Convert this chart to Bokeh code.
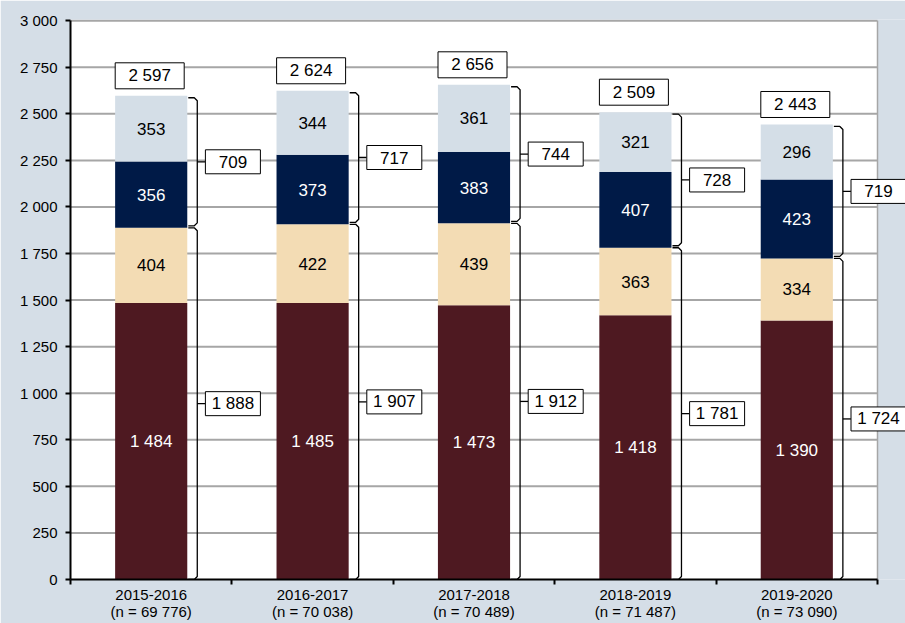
import numpy as np
from bokeh.plotting import figure
from bokeh.models import FixedTicker, Range1d
from bokeh.core.properties import value
from bokeh.embed import file_html
from bokeh.resources import INLINE

# ---------------- data ----------------
years = ["2015-2016", "2016-2017", "2017-2018", "2018-2019", "2019-2020"]
n_sizes = ["69 776", "70 038", "70 489", "71 487", "73 090"]
seg_maroon = [1484, 1485, 1473, 1418, 1390]
seg_tan = [404, 422, 439, 363, 334]
seg_navy = [356, 373, 383, 407, 423]
seg_light = [353, 344, 361, 321, 296]
lower_totals = [1888, 1907, 1912, 1781, 1724]
upper_totals = [709, 717, 744, 728, 719]
grand_totals = [2597, 2624, 2656, 2509, 2443]
y_ticks = [0, 250, 500, 750, 1000, 1250, 1500, 1750, 2000, 2250, 2500, 2750, 3000]
y_tick_labels = ["0", "250", "500", "750", "1 000", "1 250", "1 500", "1 750",
                 "2 000", "2 250", "2 500", "2 750", "3 000"]

# ---------------- style ----------------
BG = "#d5dee7"
WHITE = "#ffffff"
C_MAROON = "#4e1921"
C_TAN = "#f3dcb4"
C_NAVY = "#001a47"
C_LIGHT = "#d4dee7"
GRID = "#a6a6a6"
FONT = "Liberation Sans"
LBL = "17px"
AX = "15px"

def fmt(v):
    return f"{v:,}".replace(",", " ")

W, H = 905, 623
B_LEFT, B_TOP, B_BOTTOM = 70, 19, 43
frame_w = W - B_LEFT
frame_h = H - B_TOP - B_BOTTOM
NCAT = len(years)
cat_px = 807 / NCAT
x_end = frame_w / cat_px
y_end = 3000 + 1.2 * 3000 / (frame_h - 1.2)
ypx = y_end / frame_h          # data units per pixel (y)
xpx = 1 / cat_px               # data units per pixel (x)

p = figure(width=W, height=H, x_range=Range1d(0, x_end), y_range=Range1d(0, y_end),
           output_backend="svg", toolbar_location=None,
           min_border_left=B_LEFT, min_border_right=0, min_border_top=B_TOP,
           min_border_bottom=B_BOTTOM, background_fill_color=BG, border_fill_color=BG)
p.outline_line_color = None
p.xgrid.visible = False
p.ygrid.visible = False

# white plot area
p.quad(left=[0], right=[NCAT], bottom=[0], top=[3000], fill_color=WHITE, line_color=None)

# grid lines
gy = [t for t in y_ticks if t > 0]
p.segment(x0=[0] * len(gy), x1=[NCAT] * len(gy), y0=gy, y1=gy, line_color=GRID, line_width=2)
p.segment(x0=[NCAT], x1=[NCAT], y0=[0], y1=[3000], line_color=GRID, line_width=1.5)

# stacked bars
centers = np.arange(NCAT) + 0.5
bw = 0.447
series = [(seg_maroon, C_MAROON, "white"), (seg_tan, C_TAN, "black"),
          (seg_navy, C_NAVY, "white"), (seg_light, C_LIGHT, "black")]
bottom = np.zeros(NCAT)
for vals, col, tcol in series:
    vals = np.array(vals, dtype=float)
    top = bottom + vals
    p.vbar(x=centers, width=bw, bottom=bottom, top=top, fill_color=col, line_color=None)
    p.text(x=centers, y=bottom + vals / 2, text=[fmt(int(v)) for v in vals],
           text_align="center", text_baseline="middle", text_color=tcol,
           text_font=value(FONT), text_font_size=LBL)
    bottom = top

# braces
lower = np.array(lower_totals, dtype=float)
grand = np.array(grand_totals, dtype=float)
x0 = centers + bw / 2 + 1 * xpx
xb = centers + bw / 2 + 10 * xpx
xt = xb + 8 * xpx
c = 3 * ypx
xs, ys = [], []
for i in range(NCAT):
    for lo, hi in [(0, lower[i]), (lower[i], grand[i])]:
        lo2 = lo + 2 * ypx if lo > 0 else lo
        hi2 = hi - 2 * ypx if lo > 0 else hi
        xs.append([x0[i], xb[i] - 3 * xpx, xb[i], xb[i], xb[i] - 3 * xpx, x0[i]])
        ys.append([hi2, hi2, hi2 - c, lo2 + c, lo2, lo2])
        mid = (lo + hi) / 2
        xs.append([xb[i], xt[i]])
        ys.append([mid, mid])
p.multi_line(xs=xs, ys=ys, line_color="black", line_width=1.3)

# side boxes
side_x = np.concatenate([np.arange(1, NCAT + 1), np.arange(1, NCAT + 1)]).astype(float) + 1 * xpx
side_y = np.concatenate([lower / 2, (lower + grand) / 2])
side_t = [fmt(v) for v in lower_totals] + [fmt(v) for v in upper_totals]
p.rect(x=side_x, y=side_y, width=55, height=24, width_units="screen", height_units="screen",
       fill_color=WHITE, line_color="black", line_width=1)
p.text(x=side_x, y=side_y, text=side_t, text_align="center", text_baseline="middle",
       text_color="black", text_font=value(FONT), text_font_size=LBL)

# top boxes
top_y = grand + 20 * ypx
p.rect(x=centers - 1.5 * xpx, y=top_y, width=69, height=26, width_units="screen",
       height_units="screen", fill_color=WHITE, line_color="black", line_width=1)
p.text(x=centers - 1.5 * xpx, y=top_y, text=[fmt(v) for v in grand_totals],
       text_align="center", text_baseline="middle", text_color="black",
       text_font=value(FONT), text_font_size=LBL)

# axes
xa = p.xaxis[0]
xa.ticker = FixedTicker(ticks=list(centers), minor_ticks=list(range(NCAT + 1)))
xa.major_label_overrides = {float(cx): f"{y}\n(n = {n})" for cx, y, n in zip(centers, years, n_sizes)}
xa.major_tick_out = 0
xa.major_tick_in = 0
xa.minor_tick_out = 5
xa.minor_tick_in = 0
xa.minor_tick_line_color = "black"
xa.minor_tick_line_width = 2
xa.axis_line_color = "black"
xa.axis_line_width = 2
xa.bounds = (0, NCAT)
xa.major_label_text_font = FONT
xa.major_label_text_font_size = AX
xa.major_label_text_color = "black"
xa.major_label_text_line_height = 1.05
xa.major_label_standoff = 1

ya = p.yaxis[0]
ya.ticker = FixedTicker(ticks=y_ticks)
ya.major_label_overrides = {t: l for t, l in zip(y_ticks, y_tick_labels)}
ya.major_tick_out = 5
ya.major_tick_in = 0
ya.major_tick_line_width = 2
ya.minor_tick_line_color = None
ya.axis_line_color = "black"
ya.axis_line_width = 2
ya.bounds = (0, 3000)
ya.major_label_text_font = FONT
ya.major_label_text_font_size = AX
ya.major_label_text_color = "black"
ya.major_label_standoff = 8

open("out.html", "w").write(file_html(p, INLINE))
